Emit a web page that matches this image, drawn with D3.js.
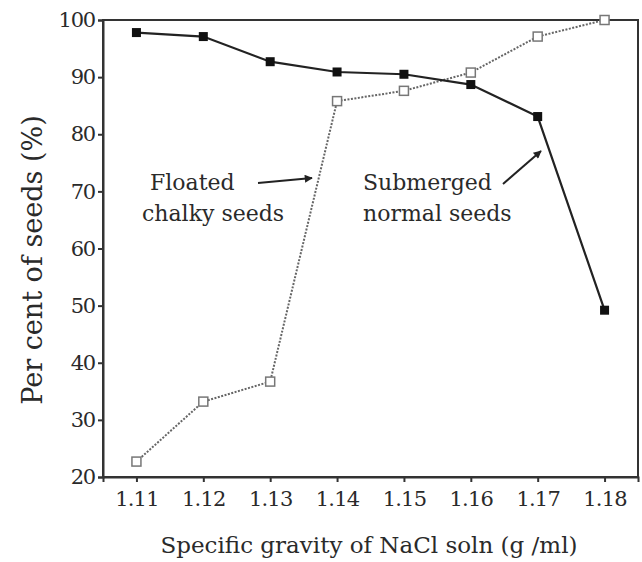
<!DOCTYPE html>
<html>
<head>
<meta charset="utf-8">
<script src="https://cdn.jsdelivr.net/npm/d3@7"></script>
<style>
  body { margin: 0; background: #fff; }
  svg { display: block; }
  text { font-family: "DejaVu Serif", "Liberation Serif", serif; fill: #2a2a2a; }
</style>
</head>
<body>
<svg id="chart" width="642" height="562"></svg>
<script>
// Specific gravity of the NaCl solution (g/ml)
const gravity = [1.11, 1.12, 1.13, 1.14, 1.15, 1.16, 1.17, 1.18];
// Per cent of seeds that sank (normal seeds)
const submerged = [97.8, 97.1, 92.7, 90.9, 90.5, 88.7, 83.1, 49.2];
// Per cent of seeds that floated (chalky seeds)
const floated = [22.7, 33.2, 36.7, 85.8, 87.6, 90.8, 97.1, 100];
const yTicks = [20, 30, 40, 50, 60, 70, 80, 90, 100];
const xTickLabels = ["1.11", "1.12", "1.13", "1.14", "1.15", "1.16", "1.17", "1.18"];

const svg = d3.select("#chart");
const m = { left: 103, right: 638, top: 20, bottom: 477 };

const x = d3.scaleLinear().domain([1.105, 1.185]).range([m.left, m.right]);
const y = d3.scaleLinear().domain([20, 100]).range([m.bottom, m.top]);

// Frame
svg.append("rect")
  .attr("x", m.left).attr("y", m.top)
  .attr("width", m.right - m.left).attr("height", m.bottom - m.top)
  .attr("fill", "none").attr("stroke", "#333").attr("stroke-width", 2);

// Y axis
const yAxis = svg.append("g")
  .attr("transform", `translate(${m.left},0)`)
  .call(d3.axisLeft(y).tickValues(yTicks).tickSize(5).tickPadding(3).tickFormat(d3.format("d")));
yAxis.select(".domain").attr("stroke", "#333").attr("stroke-width", 2);
yAxis.selectAll(".tick line").attr("stroke", "#333").attr("stroke-width", 2);
yAxis.selectAll(".tick text")
  .style("font-family", '"DejaVu Serif", serif')
  .attr("font-size", 21).attr("letter-spacing", -1.2).attr("fill", "#2a2a2a");

// X axis
const xAxis = svg.append("g")
  .attr("transform", `translate(0,${m.bottom})`)
  .call(d3.axisBottom(x).tickValues(gravity).tickSize(5).tickPadding(9)
    .tickFormat((d, i) => xTickLabels[i]));
xAxis.select(".domain").attr("stroke", "#333").attr("stroke-width", 2);
xAxis.selectAll(".tick line").attr("stroke", "#333").attr("stroke-width", 2);
xAxis.selectAll(".tick text")
  .style("font-family", '"DejaVu Serif", serif')
  .attr("font-size", 21).attr("letter-spacing", -0.8).attr("fill", "#2a2a2a");

// Axis titles
svg.append("text")
  .attr("x", 369).attr("y", 553)
  .attr("text-anchor", "middle").attr("font-size", 23)
  .text("Specific gravity of NaCl soln (g /ml)");

svg.append("text")
  .attr("transform", "translate(42,260) rotate(-90)")
  .attr("text-anchor", "middle").attr("font-size", 27)
  .text("Per cent of seeds (%)");

const line = d3.line().x((d, i) => x(gravity[i])).y(d => y(d));

// Floated chalky seeds: dotted line with open squares
svg.append("path")
  .datum(floated)
  .attr("d", line)
  .attr("fill", "none").attr("stroke", "#666").attr("stroke-width", 2)
  .attr("stroke-dasharray", "2,1.5");

const ms = 9;
svg.append("g").selectAll("rect")
  .data(floated).join("rect")
  .attr("x", (d, i) => x(gravity[i]) - ms / 2)
  .attr("y", d => y(d) - ms / 2)
  .attr("width", ms).attr("height", ms)
  .attr("fill", "#fff").attr("stroke", "#777").attr("stroke-width", 1.5);

// Submerged normal seeds: solid line with filled squares
svg.append("path")
  .datum(submerged)
  .attr("d", line)
  .attr("fill", "none").attr("stroke", "#222").attr("stroke-width", 2.2);

svg.append("g").selectAll("rect")
  .data(submerged).join("rect")
  .attr("x", (d, i) => x(gravity[i]) - ms / 2)
  .attr("y", d => y(d) - ms / 2)
  .attr("width", ms).attr("height", ms)
  .attr("fill", "#111");

// Annotations
svg.append("defs").append("marker")
  .attr("id", "arrow").attr("viewBox", "0 0 10 10")
  .attr("refX", 9).attr("refY", 5)
  .attr("markerWidth", 12).attr("markerHeight", 8)
  .attr("markerUnits", "userSpaceOnUse")
  .attr("orient", "auto")
  .append("path").attr("d", "M0,0 L10,5 L0,10 z").attr("fill", "#222");

const notes = [
  { lines: ["Floated", "chalky seeds"], x: 142, dx: [8, 0] },
  { lines: ["Submerged", "normal seeds"], x: 363, dx: [0, 0] }
];
notes.forEach(n => {
  n.lines.forEach((t, i) => {
    svg.append("text")
      .attr("x", n.x + n.dx[i]).attr("y", 190 + i * 31)
      .attr("font-size", 22)
      .text(t);
  });
});

svg.append("line")
  .attr("x1", 258).attr("y1", 183).attr("x2", 312).attr("y2", 178)
  .attr("stroke", "#222").attr("stroke-width", 2)
  .attr("marker-end", "url(#arrow)");
svg.append("line")
  .attr("x1", 503).attr("y1", 184).attr("x2", 541).attr("y2", 151)
  .attr("stroke", "#222").attr("stroke-width", 2)
  .attr("marker-end", "url(#arrow)");
</script>
</body>
</html>
